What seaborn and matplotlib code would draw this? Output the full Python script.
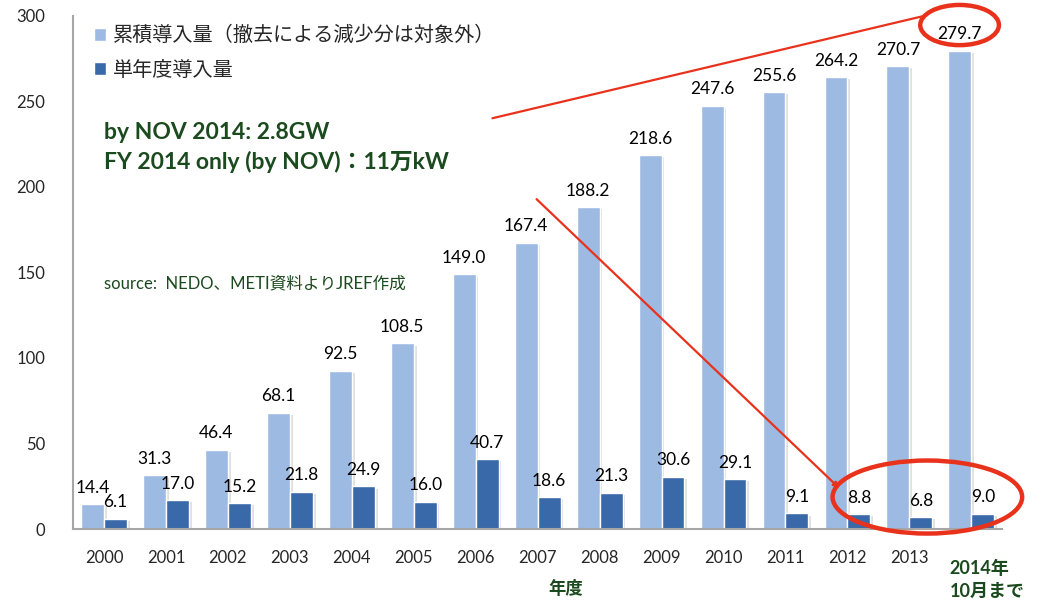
import matplotlib
matplotlib.use("Agg")
import matplotlib.pyplot as plt
import matplotlib.patheffects as pe
from matplotlib.patches import Ellipse
import seaborn as sns
import pandas as pd

# ---- data ----
years = ["2000", "2001", "2002", "2003", "2004", "2005", "2006", "2007",
         "2008", "2009", "2010", "2011", "2012", "2013", "2014"]
cumulative = [14.4, 31.3, 46.4, 68.1, 92.5, 108.5, 149.0, 167.4, 188.2,
              218.6, 247.6, 255.6, 264.2, 270.7, 279.7]
annual = [6.1, 17.0, 15.2, 21.8, 24.9, 16.0, 40.7, 18.6, 21.3,
          30.6, 29.1, 9.1, 8.8, 6.8, 9.0]
series_names = ["累積導入量（撤去による減少分は対象外）", "単年度導入量"]
last_label = "2014年\n10月まで"
xlabel = "年度"
note1 = "by NOV 2014: 2.8GW"
note2 = "FY 2014 only (by NOV)：11万kW"
source = "source:  NEDO、METI資料よりJREF作成"

LIGHT = "#9DBAE2"
DARK = "#3A69A9"
GREEN = "#1B4A1E"
RED = "#E8321C"

df = pd.DataFrame({
    "year": years * 2,
    "value": cumulative + annual,
    "series": [series_names[0]] * len(years) + [series_names[1]] * len(years),
})

sns.set_theme(style="white")
plt.rcParams["font.family"] = ["Lato", "Noto Sans CJK JP", "DejaVu Sans"]

fig = plt.figure(figsize=(10.43, 6.05), dpi=100)
ax = fig.add_axes([0.070, 0.1256, 0.891, 0.848])

sns.barplot(data=df, x="year", y="value", hue="series", order=years,
            hue_order=series_names, palette=[LIGHT, DARK], width=0.74,
            gap=0, saturation=1, ax=ax, errorbar=None)

shadow = [pe.SimplePatchShadow(offset=(2, -1.5), shadow_rgbFace="#999999", alpha=0.3), pe.Normal()]
for cont in ax.containers:
    for p in cont:
        p.set_path_effects(shadow)
    ax.bar_label(cont, fmt="%.1f", padding=6, fontsize=12.5, color="black")

ax.set_ylim(0, 300)
ax.set_xlim(-0.5, len(years) - 0.5)
ax.set_yticks(range(0, 301, 50))
ax.tick_params(axis="y", length=0, pad=20, labelsize=12)
ax.tick_params(axis="x", length=0, pad=15, labelsize=12)
ticklabels = years[:-1] + [""]
ax.set_xticks(range(len(years)))
ax.set_xticklabels(ticklabels)
ax.set_xlabel("")
ax.set_ylabel("")
for s in ["top", "right"]:
    ax.spines[s].set_visible(False)
for s in ["left", "bottom"]:
    ax.spines[s].set_color("#A6A6A6")
    ax.spines[s].set_linewidth(1.5)

# special last tick label and axis title
ax.text(len(years) - 1 - 0.35, -18, last_label, ha="left", va="top",
        fontsize=13, fontweight="bold", color=GREEN, linespacing=1.45,
        clip_on=False)
ax.text(7.45, -30, xlabel, ha="center", va="top", fontsize=12.5,
        fontweight="bold", color=GREEN, clip_on=False)

# legend
leg = ax.legend(loc="upper left", bbox_to_anchor=(0.003, 1.018), frameon=False,
                fontsize=14.5, handlelength=0.6, handleheight=0.6,
                handletextpad=0.35, labelspacing=0.78)
for h in leg.legend_handles:
    h.set_path_effects([])

# notes
ax.text(0.0, 232, note1, fontsize=16.5, fontweight="bold", color=GREEN, va="center")
ax.text(0.0, 214.5, note2, fontsize=16.5, fontweight="bold", color=GREEN, va="center")
ax.text(0.0, 143.5, source, fontsize=12, color=GREEN, va="center")

# red highlights
n = len(years) - 1
ax.add_patch(Ellipse((n - 0.19, cumulative[-1] + 15), 1.27, 23.5,
                     fill=False, edgecolor=RED, linewidth=3.2, clip_on=False, zorder=5))
ax.add_patch(Ellipse((n - 0.71, 18.7), 3.06, 42.7,
                     fill=False, edgecolor=RED, linewidth=3.2, clip_on=False, zorder=5))
ax.plot([6.27, 13.21], [240.2, 299.8], color=RED, linewidth=1.6, clip_on=False, zorder=5)
ax.annotate("", xy=(11.9, 22.8), xytext=(6.95, 194),
            arrowprops=dict(arrowstyle="-|>", color=RED, lw=1.6, mutation_scale=8),
            zorder=5)

fig.savefig("out.png", dpi=100)
